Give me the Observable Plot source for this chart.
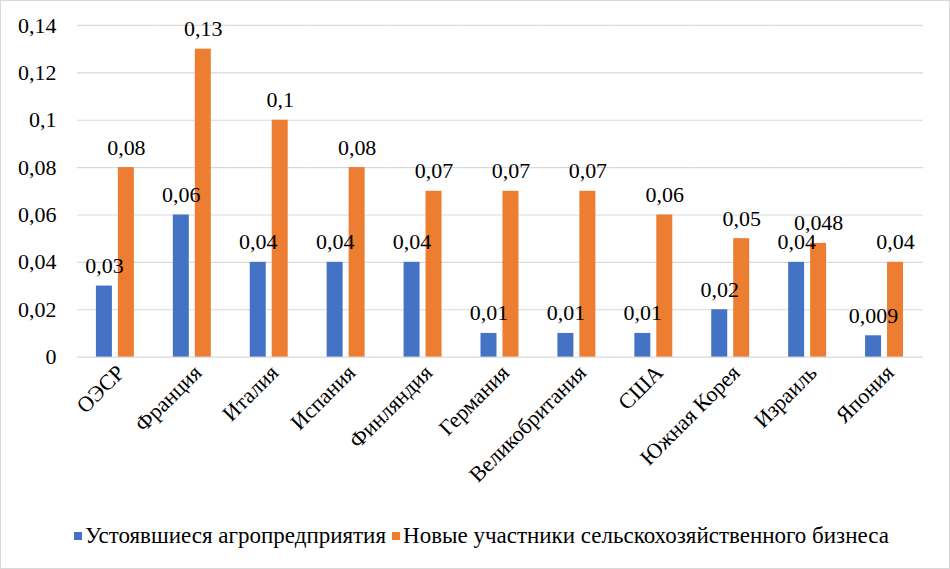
<!DOCTYPE html>
<html>
<head>
<meta charset="utf-8">
<script src="https://cdn.jsdelivr.net/npm/d3@7"></script>
<script src="https://cdn.jsdelivr.net/npm/@observablehq/plot@0.6"></script>
</head>
<body style="margin:0;padding:0;background:#fff">
<div id="frame" style="position:relative;width:950px;height:569px;box-sizing:border-box;border:1px solid #d9d9d9;overflow:hidden;background:#fff">
  <div id="chart" style="position:absolute;left:-1px;top:-1px"></div>
  <div id="legend" style="position:absolute;left:73px;top:522px;display:flex;align-items:center;font-size:23px;color:#000;white-space:nowrap"></div>
</div>
<script>
const categories = ["ОЭСР", "Франция", "Италия", "Испания", "Финляндия", "Германия", "Великобритания", "США", "Южная Корея", "Израиль", "Япония"];
const seriesNames = ["Устоявшиеся агропредприятия", "Новые участники сельскохозяйственного бизнеса"];
const established = [0.03, 0.06, 0.04, 0.04, 0.04, 0.01, 0.01, 0.01, 0.02, 0.04, 0.009];
const newcomers = [0.08, 0.13, 0.1, 0.08, 0.07, 0.07, 0.07, 0.06, 0.05, 0.048, 0.04];
const yTicks = [0, 0.02, 0.04, 0.06, 0.08, 0.1, 0.12, 0.14];
const colors = ["#4472C4", "#ED7D31"];
const FONT = "'Liberation Serif', 'Times New Roman', Tinos, serif";
const setFont = el => el.style.setProperty("font-family", FONT, "important");

const fmt = v => String(v).replace(".", ",");

const data = [];
categories.forEach((c, i) => {
  data.push({cat: c, series: seriesNames[0], value: established[i]});
  data.push({cat: c, series: seriesNames[1], value: newcomers[i]});
});

const chart = Plot.plot({
  width: 950,
  height: 510,
  marginLeft: 76,
  marginRight: 25,
  marginTop: 25,
  marginBottom: 153,
  style: {fontFamily: FONT, fontSize: "22px", color: "#000", background: "transparent", overflow: "visible"},
  fx: {domain: categories, padding: 0, label: null, axis: null},
  x: {domain: seriesNames, paddingInner: 0.26, paddingOuter: 0.81, axis: null},
  y: {domain: [0, 0.14], ticks: yTicks, label: null},
  color: {domain: seriesNames, range: colors},
  marks: [
    Plot.ruleY(yTicks, {stroke: "#d9d9d9", strokeWidth: 1.2, strokeOpacity: 1}),
    Plot.axisY({ticks: yTicks, tickFormat: fmt, tickSize: 0, tickPadding: 21, fontSize: 22, fontFamily: FONT, label: null}),
    Plot.axisFx({anchor: "bottom", tickSize: 0, tickRotate: -45, tickPadding: 12, fontSize: 22, fontFamily: FONT, textAnchor: "end", dx: 5, label: null}),
    Plot.barY(data, {fx: "cat", x: "series", y: "value", fill: "series"}),
    Plot.text(data, {fx: "cat", x: "series", y: "value", text: d => fmt(d.value), dy: -20, lineAnchor: "middle", fontSize: 22, fontFamily: FONT, fill: "#000"})
  ]
});
setFont(chart);
chart.querySelectorAll("g, text, tspan").forEach(setFont);
document.getElementById("chart").appendChild(chart);

const legend = document.getElementById("legend");
setFont(legend);
seriesNames.forEach((s, i) => {
  const item = document.createElement("span");
  item.style.cssText = "display:flex;align-items:center;margin-right:6px";
  const sw = document.createElement("span");
  sw.style.cssText = "display:inline-block;width:8px;height:8px;margin-right:3px";
  sw.style.background = colors[i];
  const t = document.createElement("span");
  setFont(t);
  t.textContent = s;
  item.appendChild(sw);
  item.appendChild(t);
  legend.appendChild(item);
});
</script>
</body>
</html>
